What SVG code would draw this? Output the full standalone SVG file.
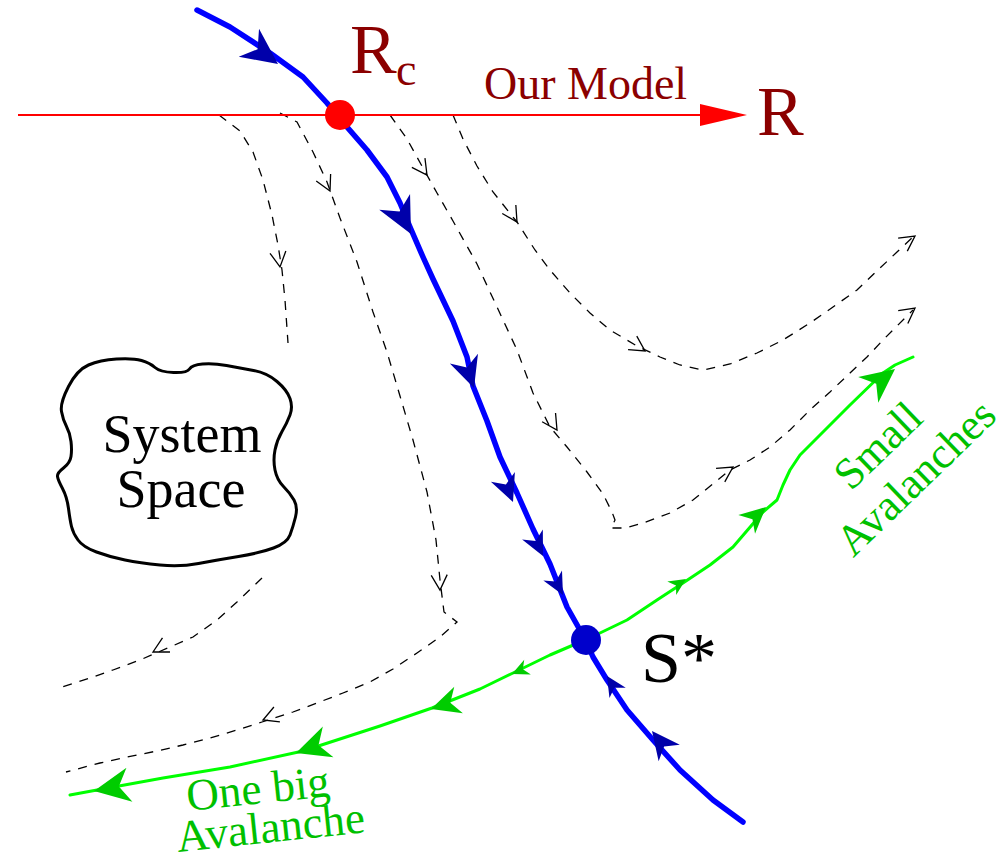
<svg xmlns="http://www.w3.org/2000/svg" xmlns:xlink="http://www.w3.org/1999/xlink" width="1008" height="864" viewBox="0 0 1008 864">
<style>
.dash{fill:none;stroke:#000;stroke-width:1.3;stroke-dasharray:9 8}
.blue{fill:none;stroke:#0000ff;stroke-width:5.5;stroke-linejoin:round;stroke-linecap:round}
.green{fill:none;stroke:#00ff00;stroke-width:3;stroke-linejoin:round;stroke-linecap:round}
.red{fill:none;stroke:#ff0000;stroke-width:2}
text{font-family:'Liberation Serif','Tinos','Times New Roman','Times','Nimbus Roman','Nimbus Roman No9 L','FreeSerif','Noto Serif','DejaVu Serif',serif}
.dred{fill:#8b0000}
.gtxt{fill:#00c000}
</style>
<defs>
<path id="fa" d="M0,0 L-1,-0.48 L-0.7,0 L-1,0.48 Z"/>
<path id="oa" d="M-15,-8 L0,0 L-15,8" fill="none" stroke="#000" stroke-width="1.3"/>
</defs>
<rect width="1008" height="864" fill="#fff"/>

<g id="connectors">
<path class="dash" d="M219,115 L240,131 L253,152 L263,180 L272,215 L278,245 L282,270 L285,300 L288,343"/>
<path class="dash" d="M280,113 L297,122 L313,152 L327,182 L340,218 L357,262 L373,312 L387,352 L400,396 L413,440 L427,492 L436,540 L440,580 L444,612 L457,622 L440,637 L417,653 L393,669 L370,682 L343,693 L317,703 L293,712 L262,722 L237,730 L210,738 L183,745 L157,751 L127,757 L100,763 L66,772"/>
<path class="dash" d="M262,578 L237,602 L217,620 L193,637 L170,647 L140,660 L113,670 L90,678 L62,687"/>
<path class="dash" d="M390,115 L407,139 L423,168 L437,193 L453,221 L477,264 L497,307 L517,350 L533,393 L550,427 L567,447 L587,472 L603,494 L612,512 L615,520 L611,528 L625,528 L643,523 L670,513 L693,500 L730,470 L750,460 L770,447 L790,430 L810,410 L830,392 L850,373 L867,357 L883,340 L913,310"/>
<path class="dash" d="M453,115 L463,139 L477,166 L493,192 L517,222 L535,250 L550,270 L570,293 L590,313 L610,330 L637,346 L660,357 L680,365 L703,370 L730,364 L757,353 L783,340 L810,323 L833,307 L857,290 L880,268 L897,252 L913,237"/>
<use xlink:href="#oa" transform="translate(280,267) rotate(82)"/>
<use xlink:href="#oa" transform="translate(330,191) rotate(64)"/>
<use xlink:href="#oa" transform="translate(440,590) rotate(87)"/>
<use xlink:href="#oa" transform="translate(263,720) rotate(158)"/>
<use xlink:href="#oa" transform="translate(153,652) rotate(152)"/>
<use xlink:href="#oa" transform="translate(427,175) rotate(55)"/>
<use xlink:href="#oa" transform="translate(557,430) rotate(57)"/>
<use xlink:href="#oa" transform="translate(733,467) rotate(-33)"/>
<use xlink:href="#oa" transform="translate(915,308) rotate(-37)"/>
<use xlink:href="#oa" transform="translate(517,222) rotate(58)"/>
<use xlink:href="#oa" transform="translate(645,351) rotate(33)"/>
<use xlink:href="#oa" transform="translate(915,236) rotate(-35)"/>

<path class="red" d="M18,115 L705,115"/>
<path d="M700,104 L747,115 L700,126 Z" fill="#ff0000"/>

<path class="blue" d="M197,10 L230,27 L270,53 L303,77 L327,103 L347,127 L367,150 L387,177 L400,203 L410,227 L423,257 L433,279 L453,321 L467,357 L473,386 L487,421 L500,457 L517,493 L533,529 L550,564 L567,607 L585,639 L593,657 L607,680 L627,710 L653,740 L680,770 L713,800 L743,822"/>
<g fill="#0000aa">
<use xlink:href="#fa" transform="translate(278,64) rotate(36) scale(36)"/>
<use xlink:href="#fa" transform="translate(411,234) rotate(63) scale(36)"/>
<use xlink:href="#fa" transform="translate(474,388) rotate(71) scale(31)"/>
<use xlink:href="#fa" transform="translate(513,502) rotate(68) scale(27)"/>
<use xlink:href="#fa" transform="translate(543,556) rotate(64) scale(24)"/>
<use xlink:href="#fa" transform="translate(563,595) rotate(62) scale(22)"/>
<use xlink:href="#fa" transform="translate(607,676) rotate(-122) scale(20)"/>
<use xlink:href="#fa" transform="translate(652,731) rotate(-128) scale(28)"/>
</g>

<path class="green" d="M913,357 L895,365 L883,373 L850,405 L820,435 L800,455 L790,470 L783,485 L777,500 L763,512 L733,547 L710,565 L683,583 L657,600 L627,620 L600,633 L585,640 L550,655 L513,673 L480,689 L432,708 L380,726 L303,751 L230,767 L163,778 L97,790 L70,795"/>
<g fill="#00cc00">
<use xlink:href="#fa" transform="translate(895,369) rotate(-38) scale(34)"/>
<use xlink:href="#fa" transform="translate(766,507) rotate(-42) scale(26)"/>
<use xlink:href="#fa" transform="translate(686,579) rotate(-33) scale(17)"/>
<use xlink:href="#fa" transform="translate(512,674) rotate(156) scale(17)"/>
<use xlink:href="#fa" transform="translate(431,709) rotate(162) scale(29)"/>
<use xlink:href="#fa" transform="translate(296,753) rotate(161) scale(34)"/>
<use xlink:href="#fa" transform="translate(94,791) rotate(170) scale(36)"/>
</g>
</g>

<g id="system-space">
<path d="M61.5,411.5 Q60,403 68.5,386.5 Q77,370 88.5,365 Q100,360 116.5,359 Q133,358 141.5,360.5 Q150,363 155,367.5 Q160,372 173.5,372.5 Q187,373 189.5,369 Q192,365 202.5,364 Q213,363 226.5,365.5 Q240,368 253.5,370.5 Q267,373 277,381.5 Q287,390 290,398.5 Q293,407 290,415 Q287,423 282,431.5 Q277,440 275,450 Q273,460 275,470 Q277,480 283.5,486.5 Q290,493 294,500 Q298,507 295.5,517 Q293,527 290,535 Q287,543 273.5,548 Q260,553 238.5,556.5 Q217,560 198.5,563.5 Q180,567 160,565 Q140,563 125,560 Q110,557 96.5,552 Q83,547 78,540 Q73,533 71.5,526.5 Q70,520 68.5,508.5 Q67,497 62.5,488.5 Q58,480 57.5,476.5 Q57,473 63.5,468 Q70,463 71,456.5 Q72,450 71,441.5 Q70,433 66.5,426.5 Q63,420 61.5,411.5 Z" fill="#fff" stroke="#000" stroke-width="3"/>
<text x="182" y="452" font-size="54" text-anchor="middle" fill="#000">System</text>
<text x="181" y="507" font-size="54" text-anchor="middle" fill="#000">Space</text>
</g>

<g id="node-rc">
<circle cx="340" cy="115" r="15" fill="#ff0000"/>
<text class="dred" x="350" y="73" font-size="70">R</text>
<text class="dred" x="396" y="85" font-size="46">c</text>
</g>

<g id="label-our-model">
<text class="dred" x="484" y="99" font-size="46">Our Model</text>
</g>

<g id="label-r">
<text class="dred" x="757" y="135" font-size="70">R</text>
</g>

<g id="node-s-star">
<circle cx="586" cy="640" r="15" fill="#0000cc"/>
<text x="641" y="682" font-size="72" fill="#000">S*</text>
</g>

<g id="label-small-avalanches">
<text class="gtxt" font-size="44" text-anchor="middle" transform="translate(888,456) rotate(-44)">Small</text>
<text class="gtxt" font-size="44" text-anchor="middle" transform="translate(926,488) rotate(-44)">Avalanches</text>
</g>

<g id="label-one-big">
<text class="gtxt" font-size="45" transform="translate(188,811) rotate(-6)">One big</text>
<text class="gtxt" font-size="45" transform="translate(178,852) rotate(-6)">Avalanche</text>
</g>
</svg>
